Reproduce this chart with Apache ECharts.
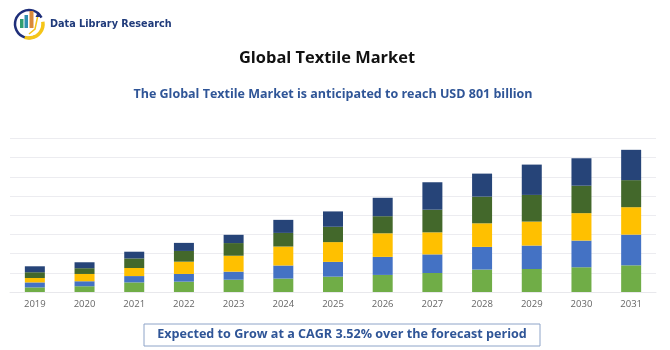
<!DOCTYPE html>
<html>
<head>
<meta charset="utf-8">
<style>
html, body { margin: 0; padding: 0; background: #fff; }
#chart { width: 670px; height: 350px; }
</style>
<script src="https://cdn.jsdelivr.net/npm/echarts@6/dist/echarts.min.js"></script>
</head>
<body>
<div id="chart"></div>
<script>
var years = ['2019', '2020', '2021', '2022', '2023', '2024', '2025', '2026', '2027', '2028', '2029', '2030', '2031'];
var seriesA = [2.4, 3.0, 5.0, 5.4, 6.4, 7.0, 8.0, 8.9, 9.9, 11.7, 12.0, 12.9, 13.9];
var seriesB = [2.6, 2.6, 3.3, 4.0, 4.2, 6.8, 7.7, 9.4, 9.7, 11.8, 12.2, 13.9, 16.0];
var seriesC = [2.3, 3.8, 4.2, 6.4, 8.3, 9.9, 10.3, 12.3, 11.5, 12.3, 12.5, 14.3, 14.3];
var seriesD = [3.0, 3.0, 5.0, 5.6, 6.6, 7.1, 8.0, 8.9, 11.8, 13.9, 13.9, 14.3, 14.1];
var seriesE = [3.1, 3.1, 3.5, 4.2, 4.3, 6.8, 8.0, 9.6, 14.3, 12.0, 15.8, 14.3, 15.8];
var seriesColors = ['#70ad47', '#4472c4', '#ffc000', '#43682b', '#264478'];

var FONT = '"Open Sans", "Noto Sans", sans-serif';
var NAVY = '#2f5597';

var myChart = echarts.init(document.getElementById('chart'));

function makeBar(values, color) {
    return {
        type: 'bar',
        stack: 'total',
        barWidth: 20,
        itemStyle: { color: color },
        data: values
    };
}

function label(x, y, text, font, fill, align) {
    return {
        type: 'text',
        x: x,
        y: y,
        style: { text: text, font: font, fill: fill, align: align, verticalAlign: 'middle' }
    };
}

var option = {
    animation: false,
    backgroundColor: '#fff',
    grid: { left: 10, right: 14, top: 138.5, bottom: 58 },
    xAxis: {
        type: 'category',
        data: years,
        axisLine: { lineStyle: { color: '#e8e8ec' } },
        axisTick: { show: false },
        axisLabel: { fontFamily: FONT, fontSize: 9.5, color: '#666', margin: 7 }
    },
    yAxis: {
        type: 'value',
        min: 0,
        max: 80,
        interval: 10,
        axisLabel: { show: false },
        axisLine: { show: false },
        axisTick: { show: false },
        splitLine: { lineStyle: { color: '#ececf0', width: 1 } }
    },
    series: [
        makeBar(seriesA, seriesColors[0]),
        makeBar(seriesB, seriesColors[1]),
        makeBar(seriesC, seriesColors[2]),
        makeBar(seriesD, seriesColors[3]),
        makeBar(seriesE, seriesColors[4])
    ],
    graphic: [
        label(327, 58, 'Global Textile Market', 'bold 16.4px ' + FONT, '#111', 'center'),
        label(333, 94, 'The Global Textile Market is anticipated to reach USD 801 billion', 'bold 12.5px ' + FONT, NAVY, 'center'),
        // callout box
        {
            type: 'rect',
            shape: { x: 144, y: 324, width: 396, height: 22 },
            style: { fill: '#fff', stroke: '#8ea4c8', lineWidth: 1 }
        },
        label(342, 334.5, 'Expected to Grow at a CAGR 3.52% over the forecast period', 'bold 12.6px ' + FONT, NAVY, 'center'),
        // logo
        {
            type: 'arc',
            shape: { cx: 29, cy: 24, r: 14, startAngle: Math.PI * 0.35, endAngle: Math.PI * 1.85 },
            style: { fill: 'none', stroke: '#1f2f7a', lineWidth: 2.5 }
        },
        {
            type: 'arc',
            shape: { cx: 29, cy: 24, r: 14, startAngle: Math.PI * 1.95, endAngle: Math.PI * 0.6, clockwise: true },
            style: { fill: 'none', stroke: '#f5c518', lineWidth: 3.5 }
        },
        { type: 'rect', shape: { x: 20, y: 19, width: 3.5, height: 9 }, style: { fill: '#2f9e6e' } },
        { type: 'rect', shape: { x: 24.5, y: 15, width: 3.5, height: 13 }, style: { fill: '#2f8fb0' } },
        { type: 'rect', shape: { x: 29.5, y: 11, width: 4, height: 17 }, style: { fill: '#d98a3a' } },
        {
            type: 'polyline',
            shape: { points: [[29, 34], [35, 29], [38, 15]] },
            style: { fill: 'none', stroke: '#f5c518', lineWidth: 1.5 }
        },
        {
            type: 'polygon',
            shape: { points: [[38, 12], [40.5, 17], [35.5, 17]] },
            style: { fill: '#1f2f7a' }
        },
        label(50, 24.5, 'Data Library Research', 'bold 9.7px "DejaVu Sans", sans-serif', '#1f3a7a', 'left')
    ]
};

myChart.setOption(option);
</script>
</body>
</html>
